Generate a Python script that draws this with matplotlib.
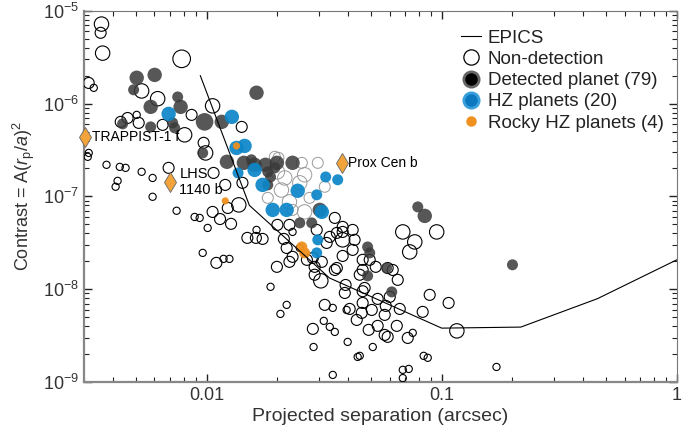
import matplotlib
matplotlib.use("Agg")
import matplotlib.pyplot as plt
from matplotlib.lines import Line2D
import numpy as np

plt.rcParams['font.family'] = ['Liberation Sans', 'DejaVu Sans']
plt.rcParams['mathtext.fontset'] = 'custom'
plt.rcParams['mathtext.rm'] = 'Liberation Sans'
plt.rcParams['mathtext.it'] = 'Liberation Sans:italic'

## EPICS contrast curve
epics_sep = [0.0094, 0.0152, 0.0333, 0.1, 0.217, 0.46, 1.0]
epics_con = [2.0e-6, 8.0e-8, 1.32e-8, 3.8e-9, 3.9e-9, 7.9e-9, 2.07e-8]

## non-detections: separation (arcsec), contrast, size class (1 small .. 4 big)
nd_sep = [0.00357, 0.00354, 0.00361, 0.00315, 0.00331, 0.00783, 0.00529, 0.00619, 0.00431, 0.00461,
          0.00504, 0.00514, 0.0065, 0.00806, 0.00863, 0.0106, 0.0141, 0.00971, 0.0099, 0.00315,
          0.00312, 0.00375, 0.00427, 0.00452, 0.00529, 0.00589, 0.00689, 0.00418, 0.0041, 0.00589,
          0.0107, 0.012, 0.0142, 0.0123, 0.00745, 0.00889, 0.00934, 0.0106, 0.0101, 0.0114,
          0.0127, 0.00962, 0.011, 0.0118, 0.0125, 0.0137, 0.0149, 0.0162, 0.0173, 0.0163,
          0.02, 0.0225, 0.0213, 0.0219, 0.0249, 0.0232, 0.0267, 0.0288, 0.0199, 0.0187,
          0.0219, 0.0206, 0.0225, 0.0232, 0.0283, 0.0309, 0.0324, 0.0294, 0.0306, 0.0288,
          0.0351, 0.0358, 0.0379, 0.0379, 0.0358, 0.0351, 0.0379, 0.0418, 0.0334, 0.0379,
          0.0426, 0.0418, 0.0461, 0.0494, 0.0461, 0.0524, 0.0448, 0.0619, 0.065, 0.0589,
          0.0731, 0.0683, 0.0952, 0.0768, 0.0318, 0.0315, 0.0344, 0.0334, 0.0351, 0.0398,
          0.0283, 0.0285, 0.0344, 0.0394, 0.039, 0.0387, 0.0406, 0.0435, 0.0457, 0.047,
          0.0461, 0.0461, 0.0504, 0.0534, 0.0578, 0.0572, 0.0601, 0.0663, 0.083, 0.0889,
          0.107, 0.116, 0.0534, 0.0489, 0.0572, 0.0589, 0.0644, 0.0717, 0.0753, 0.0509,
          0.0439, 0.0448, 0.0683, 0.0724, 0.0683, 0.0838, 0.0872, 0.171]
nd_con = [7.2e-6, 5.8e-6, 3.5e-6, 1.67e-6, 1.48e-6, 3.04e-6, 1.37e-6, 1.13e-6, 6.36e-7, 7.0e-7,
          7.56e-7, 6.2e-7, 5.9e-7, 4.61e-7, 7.56e-7, 9.46e-7, 5.61e-7, 3.78e-7, 2.94e-7, 2.94e-7,
          2.67e-7, 2.19e-7, 2.08e-7, 2.03e-7, 1.84e-7, 1.58e-7, 2.03e-7, 1.47e-7, 1.27e-7, 9.9e-8,
          1.79e-7, 1.33e-7, 1.4e-7, 7.5e-8, 7.0e-8, 6.0e-8, 5.86e-8, 6.8e-8, 4.57e-8, 5.7e-8,
          5.06e-8, 2.46e-8, 1.92e-8, 2.12e-8, 2.12e-8, 8.1e-8, 3.57e-8, 3.57e-8, 3.48e-8, 4.35e-8,
          4.93e-8, 4.93e-8, 3.48e-8, 2.78e-8, 2.78e-8, 2.23e-8, 2.07e-8, 1.74e-8, 1.74e-8, 1.06e-8,
          6.77e-9, 5.41e-9, 1.97e-8, 4.14e-8, 2.17e-8, 1.97e-8, 3.15e-8, 4.35e-8, 1.23e-8, 1.43e-8,
          1.61e-8, 1.69e-8, 2.28e-8, 4.14e-8, 4.04e-8, 5.86e-8, 4.69e-8, 4.35e-8, 3.66e-8, 3.4e-8,
          3.4e-8, 2.65e-8, 2.07e-8, 2.07e-8, 1.61e-8, 1.74e-8, 1.43e-8, 1.61e-8, 1.26e-8, 1.69e-8,
          2.52e-8, 4.14e-8, 4.14e-8, 3.23e-8, 6.77e-9, 4.55e-9, 6.28e-9, 3.92e-9, 3.46e-9, 2.7e-9,
          3.73e-9, 2.38e-9, 1.19e-9, 5.97e-9, 1.11e-8, 9.1e-9, 6.12e-9, 4.66e-9, 5.55e-9, 1.03e-8,
          9.5e-9, 7.1e-9, 5.97e-9, 7.85e-9, 6.6e-9, 5.28e-9, 8.25e-9, 6.12e-9, 5.69e-9, 8.68e-9,
          7.1e-9, 3.55e-9, 4.02e-9, 3.64e-9, 3.21e-9, 3.06e-9, 4.02e-9, 2.98e-9, 3.38e-9, 2.38e-9,
          1.86e-9, 1.91e-9, 1.35e-9, 1.38e-9, 1.1e-9, 1.91e-9, 1.82e-9, 1.45e-9]
nd_size = [3, 2, 3, 2, 1, 4, 3, 3, 2, 2,
           1, 2, 2, 3, 2, 3, 2, 2, 3, 1,
           1, 1, 1, 1, 1, 1, 2, 1, 1, 1,
           2, 2, 2, 2, 1, 1, 1, 2, 1, 2,
           2, 1, 2, 1, 1, 3, 2, 2, 2, 1,
           2, 2, 2, 2, 1, 2, 2, 2, 2, 1,
           1, 1, 2, 1, 2, 2, 2, 2, 3, 2,
           2, 2, 2, 2, 2, 2, 2, 2, 2, 3,
           2, 2, 2, 2, 2, 2, 2, 2, 2, 2,
           3, 3, 3, 3, 2, 1, 1, 1, 1, 1,
           2, 1, 1, 1, 2, 2, 2, 2, 2, 2,
           2, 2, 2, 2, 2, 2, 2, 2, 2, 2,
           2, 3, 2, 2, 2, 2, 2, 2, 1, 1,
           1, 1, 1, 1, 1, 1, 1, 1]

## non-detections drawn faint in the crowded middle
faint_sep = [0.0195, 0.0202, 0.02, 0.0215, 0.0261, 0.0208, 0.0274, 0.0225, 0.0232, 0.0261,
             0.0254, 0.0297, 0.0318, 0.0249, 0.0182]
faint_con = [2.67e-7, 2.6e-7, 1.84e-7, 1.58e-7, 1.71e-7, 1.17e-7, 9.64e-8, 8.73e-8, 7.15e-8, 6.81e-8,
             2.3e-7, 2.3e-7, 1.27e-7, 1.4e-7, 9.64e-8]
faint_size = [2, 2, 3, 3, 3, 3, 2, 3, 2, 3, 2, 2, 2, 3, 2]

## detected planets
det_sep = [0.00504, 0.00601, 0.00489, 0.00578, 0.00753, 0.00775, 0.00717, 0.00731, 0.00578, 0.00439,
           0.0098, 0.0116, 0.0163, 0.00962, 0.0122, 0.0144, 0.0155, 0.016, 0.0178, 0.0182,
           0.0182, 0.0199, 0.0232, 0.0249, 0.028, 0.0303, 0.0484, 0.0494, 0.0484, 0.0583,
           0.0613, 0.0791, 0.0847, 0.2, 0.0187, 0.0195]
det_con = [1.9e-6, 2.04e-6, 1.41e-6, 9.23e-7, 1.18e-6, 9.23e-7, 6.2e-7, 5.48e-7, 5.61e-7, 6.05e-7,
           6.36e-7, 6.36e-7, 1.31e-6, 2.94e-7, 2.36e-7, 2.3e-7, 2.48e-7, 2.19e-7, 2.19e-7, 1.84e-7,
           1.33e-7, 2.3e-7, 2.3e-7, 5.18e-8, 5.18e-8, 7.15e-8, 2.85e-8, 2.46e-8, 1.39e-8, 1.69e-8,
           9.34e-9, 7.7e-8, 6.16e-8, 1.83e-8, 1.62e-7, 2.03e-7]
det_size = [3, 3, 2, 3, 2, 3, 2, 2, 2, 2,
            4, 3, 3, 2, 3, 3, 2, 3, 3, 2,
            2, 3, 3, 2, 2, 3, 2, 2, 2, 2,
            2, 2, 3, 2, 2, 2]

## habitable zone planets
hz_sep = [0.00689, 0.0128, 0.0134, 0.0145, 0.0136, 0.016, 0.0173, 0.0191, 0.0219, 0.0244,
          0.0294, 0.0321, 0.0361, 0.0309, 0.0297, 0.0294]
hz_con = [7.75e-7, 7.2e-7, 3.33e-7, 3.5e-7, 1.79e-7, 1.93e-7, 1.33e-7, 7.15e-8, 7.15e-8, 1.15e-7,
          1.04e-7, 1.62e-7, 1.51e-7, 6.81e-8, 3.4e-8, 2.46e-8]
hz_size = [3, 3, 3, 3, 2, 3, 3, 3, 3, 3, 2, 2, 2, 3, 2, 2]

## rocky HZ planets
rocky_sep = [0.0134, 0.012, 0.0254, 0.0261]
rocky_con = [3.5e-7, 8.94e-8, 2.85e-8, 2.46e-8]
rocky_size = [1, 1, 2, 2]

## named targets
named = ['TRAPPIST-1 f', 'LHS\n1140 b', 'Prox Cen b']
named_sep = [0.00303, 0.00696, 0.0375]
named_con = [4.38e-7, 1.43e-7, 2.3e-7]

radius_px = {1: 3.6, 2: 5.5, 3: 7.2, 4: 8.8}


def area(sizes):
    return [(2 * radius_px[s] * 0.72) ** 2 for s in sizes]


fig = plt.figure(figsize=(6.92, 4.34), dpi=100)
ax = fig.add_axes([0.121, 0.12, 0.857, 0.855])

ax.scatter(faint_sep, faint_con, s=area(faint_size), facecolors='none',
           edgecolors='#9a9a9a', linewidths=0.7, zorder=2)
ax.scatter(nd_sep, nd_con, s=area(nd_size), facecolors='none',
           edgecolors='black', linewidths=0.8, zorder=3)
ax.scatter(det_sep, det_con, s=area(det_size), color='#3a3a3a', alpha=0.85,
           linewidths=0, zorder=4)
ax.scatter(hz_sep, hz_con, s=area(hz_size), color='#0b86c8', alpha=0.92,
           linewidths=0, zorder=5)
ax.scatter(rocky_sep, rocky_con, s=area(rocky_size), color='#ef901f', alpha=0.95,
           linewidths=0, zorder=6)
ax.plot(epics_sep, epics_con, color='black', lw=0.8, zorder=7)

ax.plot(named_sep, named_con, linestyle='none', marker='d', ms=10.5,
        mfc='#f2a33a', mec='#666666', mew=0.6, zorder=8, clip_on=False)
ax.text(named_sep[0] * 1.07, named_con[0], named[0], fontsize=10,
        va='center', ha='left', zorder=9)
ax.text(named_sep[1] * 1.1, named_con[1], named[1], fontsize=10.5,
        va='center', ha='left', linespacing=1.1, zorder=9)
ax.text(named_sep[2] * 1.06, named_con[2], named[2], fontsize=10,
        va='center', ha='left', zorder=9)

ax.set_xscale('log')
ax.set_yscale('log')
ax.set_xlim(0.003, 1)
ax.set_ylim(1e-9, 1e-5)
ax.set_xticks([0.01, 0.1, 1])
ax.set_xticklabels(['0.01', '0.1', '1'])

ax.tick_params(which='both', direction='in', top=True, right=True, colors='#222222',
               labelcolor='#333333', labelsize=13)
ax.tick_params(which='major', length=6, width=1.0)
ax.tick_params(which='minor', length=3.5, width=0.8)
for side in ['top', 'right']:
    ax.spines[side].set_color('#777777')
    ax.spines[side].set_linewidth(0.8)
for side in ['left', 'bottom']:
    ax.spines[side].set_color('#888888')
    ax.spines[side].set_linewidth(1.6)

ax.set_xlabel('Projected separation (arcsec)', fontsize=14, color='#333333', labelpad=3)
ax.set_ylabel(r'Contrast = A($r_{\mathrm{p}}$/$a$)$^2$', fontsize=13, color='#333333')

handles = [
    Line2D([], [], color='black', lw=0.8),
    Line2D([], [], linestyle='none', marker='o', ms=11, mfc='none', mec='black', mew=0.9),
    Line2D([], [], linestyle='none', marker='o', ms=11, mfc='black', mec='#666666', mew=2.0),
    Line2D([], [], linestyle='none', marker='o', ms=11, mfc='#0b78c0', mec='#3aa0dc', mew=2.0),
    Line2D([], [], linestyle='none', marker='o', ms=6.5, mfc='#ef901f', mec='#ef901f'),
]
labels = ['EPICS', 'Non-detection', 'Detected planet (79)', 'HZ planets (20)',
          'Rocky HZ planets (4)']
ax.legend(handles, labels, loc='upper right', bbox_to_anchor=(1.0, 0.985), frameon=False,
          fontsize=13.5, handlelength=1.1, handletextpad=0.35, labelspacing=0.22,
          labelcolor='#222222', borderaxespad=0.3)

fig.savefig('out.png', dpi=100)
